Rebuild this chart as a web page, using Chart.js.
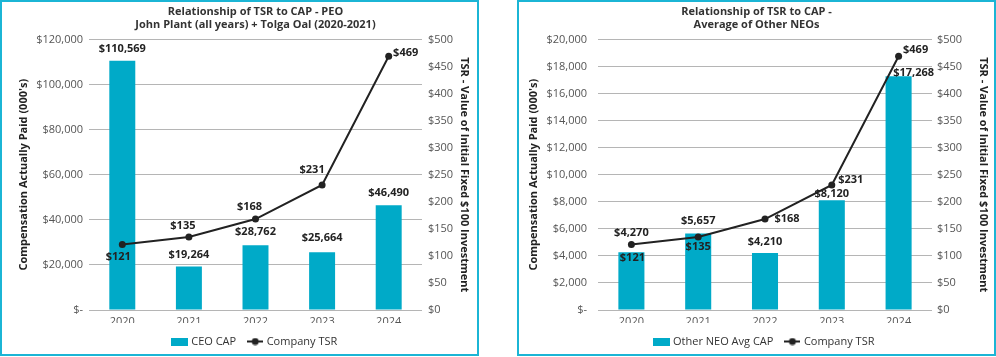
<!DOCTYPE html>
<html>
<head>
<meta charset="utf-8">
<script src="https://cdn.jsdelivr.net/npm/chart.js@4/dist/chart.umd.min.js"></script>
<style>
  html, body { margin: 0; padding: 0; background: #fff; }
  body { width: 996px; height: 357px; position: relative; overflow: hidden; }
  .panel { position: absolute; top: 0; width: 479px; height: 356px; box-sizing: border-box; border: 2px solid #1bb5d5; }
  .panel canvas { display: block; }
</style>
</head>
<body>
<div class="panel" style="left:0"><canvas id="c1" width="475" height="352"></canvas></div>
<div class="panel" style="left:517px"><canvas id="c2" width="475" height="352"></canvas></div>
<script>
// ---- data ----
const years = ['2020', '2021', '2022', '2023', '2024'];
const ceoCap = [110569, 19264, 28762, 25664, 46490];
const neoAvgCap = [4270, 5657, 4210, 8120, 17268];
const companyTsr = [121, 135, 168, 231, 469];
const ceoTicks = { max: 120000, step: 20000 };
const neoTicks = { max: 20000, step: 2000 };
const tsrTicks = { max: 500, step: 50 };

// ---- style ----
const BAR = '#00aac8';
const LINE = '#222222';
const GRID = '#b5b5b5';
const TICK = '#555555';
const FONT = "'Open Sans', sans-serif";

function icon(kind) {
  const c = document.createElement('canvas');
  if (kind === 'bar') {
    c.width = 17; c.height = 8;
    const g = c.getContext('2d');
    g.fillStyle = BAR; g.fillRect(0, 0, 17, 8);
  } else {
    c.width = 16; c.height = 8;
    const g = c.getContext('2d');
    g.strokeStyle = LINE; g.lineWidth = 2;
    g.beginPath(); g.moveTo(0, 4); g.lineTo(16, 4); g.stroke();
    g.fillStyle = LINE; g.beginPath(); g.arc(8, 4, 3.5, 0, Math.PI * 2); g.fill();
  }
  return c;
}

const valueLabels = {
  id: 'valueLabels',
  afterDatasetsDraw(chart) {
    const ctx = chart.ctx;
    ctx.save();
    ctx.font = "bold 11px " + FONT;
    ctx.fillStyle = '#222';
    ctx.textAlign = 'center';
    ctx.textBaseline = 'middle';
    chart.data.datasets.forEach((ds, di) => {
      const meta = chart.getDatasetMeta(di);
      meta.data.forEach((el, i) => {
        const off = ds.labelOffsets[i];
        const v = ds.data[i];
        ctx.fillText('$' + v.toLocaleString('en-US'), el.x + off[0], el.y + off[1]);
      });
    });
    ctx.restore();
  }
};

function makeChart(id, opts) {
  return new Chart(document.getElementById(id), {
    type: 'bar',
    data: {
      labels: years,
      datasets: [
        {
          type: 'bar', label: opts.barLabel, data: opts.barData, yAxisID: 'y',
          backgroundColor: BAR, barPercentage: 0.39, categoryPercentage: 1, order: 1,
          labelOffsets: opts.barOffsets
        },
        {
          type: 'line', label: 'Company TSR', data: companyTsr, yAxisID: 'y1',
          borderColor: LINE, backgroundColor: LINE, borderWidth: 2, tension: 0,
          pointRadius: 3.5, pointBackgroundColor: LINE, pointBorderWidth: 0, order: 0,
          labelOffsets: opts.lineOffsets
        }
      ]
    },
    options: {
      responsive: false,
      animation: false,
      layout: { padding: { left: 0, right: 0, top: 0, bottom: -3 } },
      plugins: {
        tooltip: { enabled: false },
        title: {
          display: true, text: opts.title, fullSize: opts.titleFull,
          color: '#333', font: { family: FONT, size: 11, weight: 'bold', lineHeight: 1.2 },
          padding: { top: 3, bottom: 8 }
        },
        legend: {
          position: 'bottom', fullSize: false,
          labels: {
            usePointStyle: true, pointStyleWidth: 12, padding: 13, color: '#333',
            font: { family: FONT, size: 11 },
            generateLabels(chart) {
              return chart.data.datasets.map((d, i) => ({
                text: d.label, pointStyle: icon(i === 0 ? 'bar' : 'line'),
                datasetIndex: i, hidden: false, lineWidth: 0, fontColor: '#333'
              }));
            }
          }
        }
      },
      scales: {
        x: {
          grid: { display: false, drawTicks: false }, border: { display: false },
          ticks: { color: TICK, font: { family: FONT, size: 11 }, padding: 5 },
          afterFit(s) { s.height = 13; }
        },
        y: {
          position: 'left', min: 0, max: opts.leftTicks.max,
          grid: { color: GRID, drawTicks: false }, border: { display: false },
          ticks: {
            stepSize: opts.leftTicks.step, color: TICK, font: { family: FONT, size: 11 }, padding: opts.leftPad,
            callback: v => v === 0 ? '$-' : '$' + v.toLocaleString('en-US')
          },
          title: {
            display: true, text: "Compensation Actually Paid (000's)", color: '#222',
            font: { family: FONT, size: 11, weight: 'bold', lineHeight: 1.2 },
            padding: { top: opts.leftTitlePad, bottom: 0 }
          },
          afterFit(s) { s.width = opts.leftWidth; }
        },
        y1: {
          position: 'right', min: 0, max: tsrTicks.max,
          grid: { display: false, drawTicks: false }, border: { display: false },
          ticks: {
            stepSize: tsrTicks.step, color: TICK, font: { family: FONT, size: 11 }, padding: opts.rightPad,
            callback: v => '$' + v
          },
          title: {
            display: true, text: 'TSR - Value of Initial Fixed $100 Investment', color: '#222',
            font: { family: FONT, size: 11, weight: 'bold', lineHeight: 1.2 },
            padding: { top: opts.rightTitlePad, bottom: 0 }
          },
          afterFit(s) { s.width = opts.rightWidth; }
        }
      }
    },
    plugins: [valueLabels]
  });
}

makeChart('c1', {
  title: ['Relationship of TSR to CAP - PEO', 'John Plant (all years) + Tolga Oal (2020-2021)'],
  titleFull: false,
  barLabel: 'CEO CAP', barData: ceoCap, leftTicks: ceoTicks,
  barOffsets: [[0, -12], [0, -12], [0, -13], [0, -14], [0, -12]],
  lineOffsets: [[-4, 12], [-6, -11], [-6, -12], [-10, -15], [17, -3]],
  leftWidth: 87, rightWidth: 55, leftPad: 6, rightPad: 6,
  leftTitlePad: 15, rightTitlePad: 6
});

makeChart('c2', {
  title: ['Relationship of TSR to CAP -', 'Average of Other NEOs'],
  titleFull: true,
  barLabel: 'Other NEO Avg CAP', barData: neoAvgCap, leftTicks: neoTicks,
  barOffsets: [[0, -19], [0, -13], [0, -11], [0, -6], [15, -4]],
  lineOffsets: [[1, 13], [0, 10], [22, 0], [19, -5], [17, -6]],
  leftWidth: 79, rightWidth: 62, leftPad: 11, rightPad: 5,
  leftTitlePad: 8, rightTitlePad: 4
});
</script>
</body>
</html>
